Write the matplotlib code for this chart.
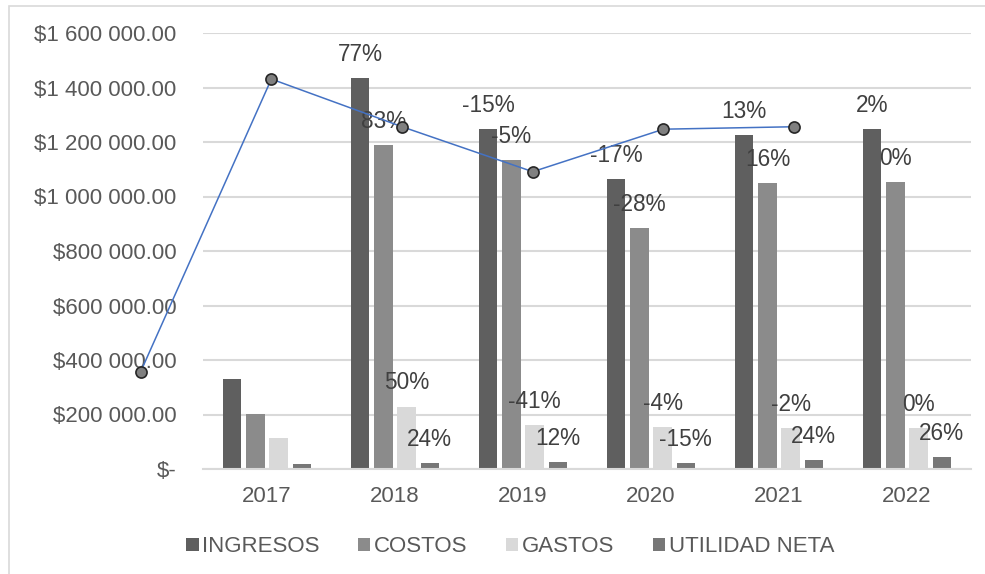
import numpy as np
import matplotlib.pyplot as plt
from matplotlib.patches import Rectangle
from matplotlib.ticker import FuncFormatter

plt.rcParams['font.family'] = ['Liberation Sans', 'DejaVu Sans']

years = ['2017', '2018', '2019', '2020', '2021', '2022']
series = ['INGRESOS', 'COSTOS', 'GASTOS', 'UTILIDAD NETA']
ingresos = [331000, 1434000, 1249000, 1064000, 1226000, 1249000]
costos = [202000, 1188000, 1135000, 884000, 1048000, 1052000]
gastos = [114000, 229000, 161000, 154000, 150000, 150000]
utilidad = [17000, 23000, 27000, 23000, 33000, 43000]

# variation labels (none for 2017)
pct_ingresos = ['', '77%', '-15%', '-17%', '13%', '2%']
pct_costos = ['', '83%', '-5%', '-28%', '16%', '0%']
pct_gastos = ['', '50%', '-41%', '-4%', '-2%', '0%']
pct_utilidad = ['', '24%', '12%', '-15%', '24%', '26%']

# trend line
trend = [357000, 1431000, 1256000, 1091000, 1247000, 1256000]

colors = ['#5f5f5f', '#8b8b8b', '#d9d9d9', '#777777']
txt = '#595959'

fig = plt.figure(figsize=(9.85, 5.74), dpi=100)
ax = fig.add_axes([203/985, 1-469/574, 768/985, 436/574])

x = np.arange(len(years))
w = 0.143
step = 0.181
values = [ingresos, costos, gastos, utilidad]
pcts = [pct_ingresos, pct_costos, pct_gastos, pct_utilidad]
for i, (name, vals, col, labs) in enumerate(zip(series, values, colors, pcts)):
    xs = x + (i - 1.5) * step
    ax.bar(xs, vals, w, color=col, label=name, zorder=2)
    for xi, v, lab in zip(xs, vals, labs):
        if lab:
            ax.annotate(lab, (xi, v), xytext=(0, 17), textcoords='offset points',
                        ha='center', va='center', fontsize=16.3, color='#404040',
                        zorder=5)

ax.set_xlim(-0.5, 5.5)
ax.set_ylim(0, 1600000)
ax.set_yticks(np.arange(0, 1600001, 200000))
ax.yaxis.set_major_formatter(FuncFormatter(
    lambda v, p: '$-' if v == 0 else '$' + f'{v:,.2f}'.replace(',', ' ')))
ax.set_xticks(x)
ax.set_xticklabels(years)
ax.tick_params(axis='y', length=0, pad=19, labelsize=16, labelcolor=txt)
ax.tick_params(axis='x', length=0, pad=12, labelsize=16, labelcolor=txt)
ax.grid(axis='y', color='#d9d9d9', lw=1.5, zorder=0)
ax.set_axisbelow(True)
for s in ['top', 'right', 'left']:
    ax.spines[s].set_visible(False)
ax.spines['bottom'].set_color('#d9d9d9')
ax.spines['bottom'].set_linewidth(1.5)

# line sits on its own x scale
ax2 = ax.twiny()
ax2.set_xlim(0.477, 6.353)
ax2.plot(np.arange(len(trend)), trend, color='#4472c4', lw=1.1,
         marker='o', markersize=8, markerfacecolor='#808080',
         markeredgecolor='#262626', markeredgewidth=1.2, clip_on=False, zorder=6)
ax2.axis('off')

leg = ax.legend(loc='upper center', bbox_to_anchor=(0.40, -0.108), ncol=4,
                frameon=False, fontsize=16, handlelength=0.55, handleheight=0.55,
                handletextpad=0.15, columnspacing=1.75)
for t in leg.get_texts():
    t.set_color(txt)

fig.patches.append(Rectangle((9/985, -0.1), 1.5, 1.1 - 6/574, transform=fig.transFigure,
                             fill=False, edgecolor='#d9d9d9', lw=1.2))

fig.savefig('out.png', dpi=100)
